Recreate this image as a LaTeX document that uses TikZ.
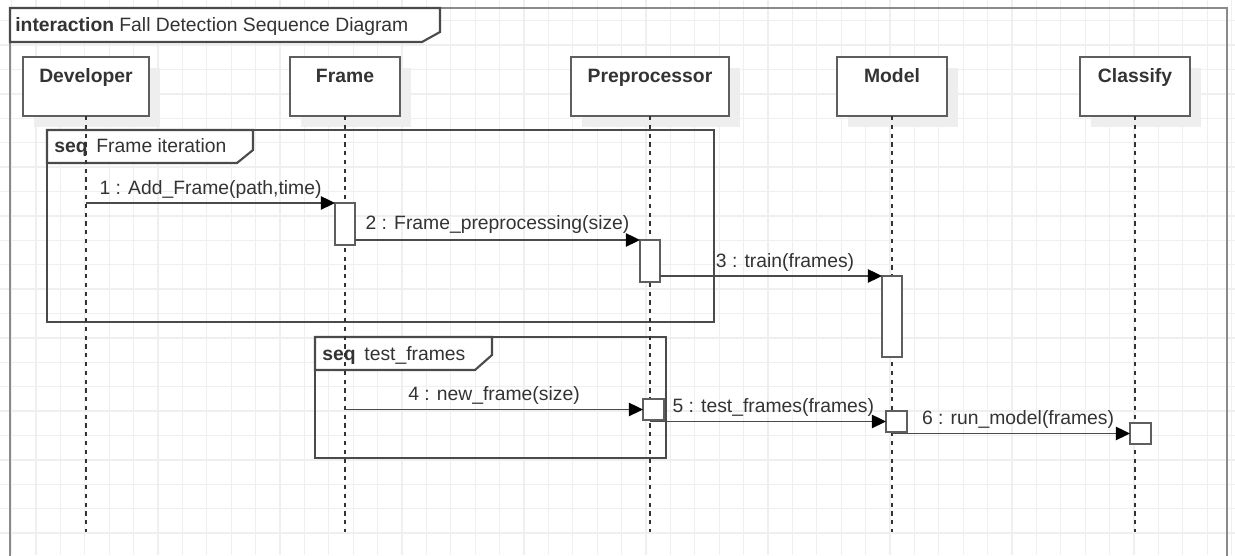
\documentclass[tikz,border=0pt]{standalone}
\usepackage{fontspec}
\setmainfont{Liberation Sans}
\usetikzlibrary{arrows.meta,shadows,calc}

\definecolor{umltext}{HTML}{333333}
\definecolor{umlline}{HTML}{4A4A4A}
\definecolor{umlbox}{HTML}{5E5E5E}
\definecolor{umlframe}{HTML}{8A8A8A}
\definecolor{gridgray}{HTML}{EFEFEF}
\definecolor{shadowgray}{HTML}{EEEEEE}

\begin{document}
\begin{tikzpicture}[x=0.02cm,y=-0.02cm,
  every node/.style={font=\fontsize{11}{13}\selectfont,text=umltext},
  gridline/.style={draw=gridgray,line width=0.7pt},
  head/.style={draw=umlbox,line width=1.1pt,fill=white,anchor=north,
    inner xsep=2pt,inner ysep=0pt,outer sep=0pt,
    text height=0.52cm,text depth=0.66cm,
    font=\fontsize{11}{13}\selectfont\bfseries,
    general shadow={fill=shadowgray,shadow xshift=6.3pt,shadow yshift=-6.3pt}},
  act/.style={draw=umlbox,line width=1.1pt,fill=white,anchor=north west,
    inner sep=0pt,outer sep=0pt,minimum width=0.4cm},
  lifeline/.style={draw=umltext,line width=0.9pt,dash pattern=on 2.4pt off 2.6pt},
  msg/.style={draw=umlline,line width=1.1pt,
    -{Triangle[length=8pt,width=7.5pt,color=black]}},
  lbl/.style={anchor=base,yshift=5pt},
  fragment/.style={draw=umlline,line width=1.2pt},
  tab/.style={draw=umlline,line width=1.2pt,fill=white},
  tabtext/.style={anchor=base west,inner sep=0pt}]
\useasboundingbox (0,0) rectangle (1235,555);

% background grid
\foreach \k in {0,...,50}
  \draw[gridline] ({11.6+24.4*\k},0) -- ({11.6+24.4*\k},555);
\foreach \k in {0,...,22}
  \draw[gridline] (0,{-3.7+24.4*\k}) -- (1235,{-3.7+24.4*\k});

% outer interaction frame
\draw[draw=umlframe,line width=1.5pt] (10,560) -- (10,8) -- (1227,8) -- (1227,560);
\draw[tab] (10,8) -- (440,8) -- (440,32) -- (422,42) -- (10,42) -- cycle;
\node[tabtext] (title) at (15,31)
  {\textbf{interaction}\hspace{3pt}Fall Detection Sequence Diagram};

% combined fragments
\draw[fragment] (47,130) rectangle (714,322);
\draw[tab] (47,130) -- (253,130) -- (253,150) -- (237,163) -- (47,163) -- cycle;
\node[tabtext] (seqA) at (54,152) {\textbf{seq}\hspace{5pt}Frame iteration};
\draw[fragment] (315,337) rectangle (666,458);
\draw[tab] (315,337) -- (492,337) -- (492,355) -- (475,370) -- (315,370) -- cycle;
\node[tabtext] (seqB) at (322,360) {\textbf{seq}\hspace{5pt}test\_frames};

% lifeline heads
\node[head,minimum width=2.52cm] (dev) at (86,57) {Developer};
\node[head,minimum width=2.2cm] (frame) at (345,57) {Frame};
\node[head,minimum width=3.16cm] (pre) at (650,57) {Preprocessor};
\node[head,minimum width=2.2cm] (model) at (892,57) {Model};
\node[head,minimum width=2.2cm] (cls) at (1135,57) {Classify};

\coordinate (bottom) at (0,532);
\foreach \n in {dev,frame,pre,model,cls}
  \draw[lifeline] (\n.south) -- (\n.south |- bottom);

% activations
\node[act,minimum height=0.84cm] (act1) at ($(frame.south)+(-10,87)$) {};
\node[act,minimum height=0.84cm] (act2) at ($(pre.south)+(-10,124)$) {};
\node[act,minimum height=1.62cm] (act3) at ($(model.south)+(-10,160)$) {};
\node[act,minimum width=0.42cm,minimum height=0.42cm] (act4) at ($(pre.south)+(-7,283)$) {};
\node[act,minimum width=0.42cm,minimum height=0.42cm] (act5) at ($(model.south)+(-6,295)$) {};
\node[act,minimum width=0.42cm,minimum height=0.42cm] (act6) at ($(cls.south)+(-5,307)$) {};

% messages
\draw[msg] (dev.south |- act1.north west) --
  node[lbl] {1 : Add\_Frame(path,time)} (act1.north west);
\draw[msg] (act1.east |- act2.north west) --
  node[lbl,yshift=1pt] {2 : Frame\_preprocessing(size)} (act2.north west);
\draw[msg] (act2.east |- act3.north west) --
  node[lbl,xshift=8pt] {3 : train(frames)} (act3.north west);
\draw[msg] (frame.south |- act4.west) --
  node[lbl] {4 : new\_frame(size)} (act4.west);
\draw[msg] (pre.south |- act5.west) --
  node[lbl,xshift=3pt] {5 : test\_frames(frames)} (act5.west);
\draw[msg] (model.south |- act6.west) --
  node[lbl,xshift=4pt] {6 : run\_model(frames)} (act6.west);
\end{tikzpicture}
\end{document}
